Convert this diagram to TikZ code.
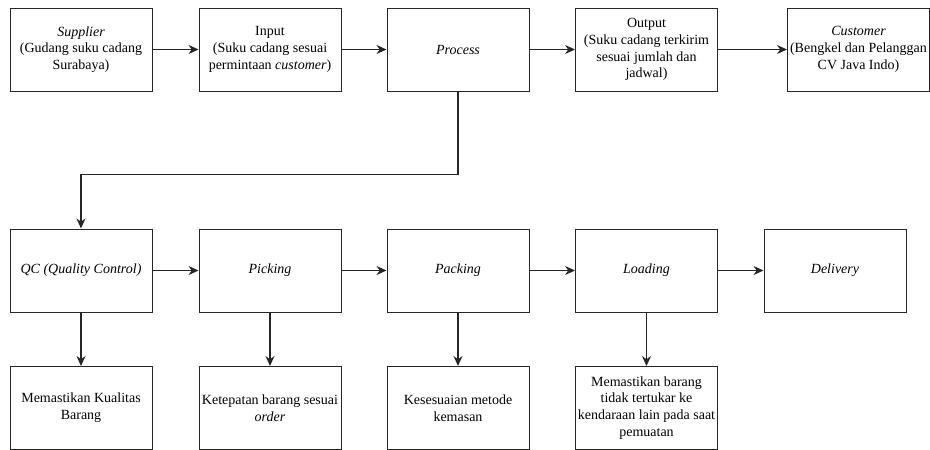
\documentclass[tikz,border=0pt]{standalone}
\usepackage{fontspec}
\setmainfont{Liberation Serif}
\usepackage{tikz}
\usetikzlibrary{arrows.meta}
\tikzstyle{block}=[rectangle,draw=black!85,line width=1pt,minimum width=142pt,minimum height=83pt,inner sep=1pt,align=center,font=\fontsize{14}{16.8}\selectfont]
\tikzstyle{edge} = [draw,line width=1.1pt,black!85,-{Stealth[length=10pt,width=9pt]}]

\begin{document}
\begin{tikzpicture}[x=1pt,y=-1pt]

   \useasboundingbox (0,0) rectangle (930,450);

  % top row
  \foreach \x/\y/\name/\label in {81/49.5/sup/{\textit{Supplier}\\(Gudang suku cadang\\Surabaya)},
          270/49.5/inp/{Input\\(Suku cadang sesuai\\permintaan \textit{customer})},
          458/49.5/proc/{\textit{Process}},
          646.5/49.5/out/{Output\\(Suku cadang terkirim\\sesuai jumlah dan\\jadwal)},
          858.5/49.5/cust/{\textit{Customer}\\(Bengkel dan Pelanggan\\CV Java Indo)}}
          \node[block] (\name) at (\x, \y) {\label};

  % middle row
  \foreach \x/\y/\name/\label in {81/270.5/qc/{\textit{QC (Quality Control)}},
          270/270.5/pick/{\textit{Picking}},
          458/270.5/pack/{\textit{Packing}},
          646.5/270.5/load/{\textit{Loading}},
          835/270.5/deliv/{\textit{Delivery}}}
          \node[block] (\name) at (\x, \y) {\label};

  % bottom row
  \foreach \x/\y/\name/\label in {81/408/qcout/{Memastikan Kualitas\\Barang},
          270/408/pickout/{Ketepatan barang sesuai\\\textit{order}},
          458/408/packout/{Kesesuaian metode\\kemasan},
          646.5/408/loadout/{Memastikan barang\\tidak tertukar ke\\kendaraan lain pada saat\\pemuatan}}
          \node[block] (\name) at (\x, \y) {\label};

  \foreach \source/ \dest in {sup/inp,inp/proc,proc/out,out/cust,qc/pick,pick/pack,pack/load,load/deliv,
          qc/qcout,pick/pickout,pack/packout,load/loadout}
         \path[edge] (\source) -- (\dest);

  \path[edge] (proc.south) -- ++(0,83) -| (qc.north);

\end{tikzpicture}
\end{document}
